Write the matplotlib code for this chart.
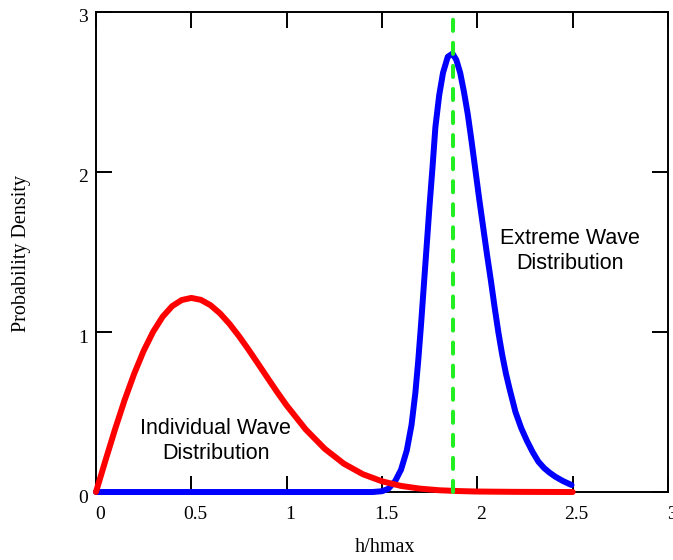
import matplotlib
matplotlib.use('Agg')
import matplotlib.pyplot as plt
import matplotlib.transforms as mtransforms

# Individual wave distribution
red_x = [0.0, 0.05, 0.1, 0.15, 0.2, 0.25, 0.3, 0.35, 0.4, 0.45, 0.5, 0.55, 0.6, 0.65,
         0.7, 0.75, 0.8, 0.85, 0.9, 0.95, 1.0, 1.1, 1.2, 1.3, 1.4, 1.5, 1.6, 1.7,
         1.8, 1.9, 2.0, 2.2, 2.5]
red_y = [0.0, 0.198, 0.392, 0.574, 0.738, 0.882, 1.002, 1.096, 1.162, 1.200, 1.213,
         1.201, 1.168, 1.117, 1.051, 0.974, 0.890, 0.802, 0.713, 0.625, 0.541, 0.391,
         0.270, 0.177, 0.111, 0.067, 0.038, 0.021, 0.011, 0.006, 0.003, 0.001, 0.0]

# Extreme wave distribution
blue_x = [0.0, 1.45, 1.50, 1.533, 1.57, 1.60, 1.63, 1.655, 1.675, 1.69, 1.705, 1.72,
          1.735, 1.75, 1.765, 1.78, 1.80, 1.82, 1.845, 1.87, 1.89, 1.91, 1.93, 1.95,
          1.97, 1.99, 2.01, 2.03, 2.05, 2.07, 2.09, 2.11, 2.13, 2.15, 2.17, 2.20,
          2.23, 2.26, 2.29, 2.32, 2.35, 2.38, 2.41, 2.45, 2.494]
blue_y = [0.0, 0.0, 0.005, 0.02, 0.07, 0.14, 0.26, 0.42, 0.62, 0.82, 1.05, 1.30,
          1.55, 1.80, 2.03, 2.28, 2.48, 2.62, 2.72, 2.74, 2.70, 2.62, 2.50, 2.36,
          2.19, 2.01, 1.83, 1.66, 1.49, 1.33, 1.16, 1.00, 0.86, 0.74, 0.64, 0.50,
          0.40, 0.32, 0.25, 0.19, 0.15, 0.12, 0.095, 0.068, 0.044]

mode_x = 1.87

x_ticks = [0, 0.5, 1, 1.5, 2, 2.5, 3]
x_tick_labels = ['0', '0.5', '1', '1.5', '2', '2.5', '3']
y_ticks = [0, 1, 2, 3]

plt.rcParams['lines.scale_dashes'] = False
serif = 'Liberation Serif'
sans = 'Liberation Sans'

fig = plt.figure(figsize=(6.73, 5.6), dpi=100)
ax = fig.add_axes([0.1426, 0.1214, 0.85, 0.8572])

ax.plot(blue_x, blue_y, color='#0000ff', lw=4.3, clip_on=False,
        solid_capstyle='round', solid_joinstyle='round', zorder=3)
ax.plot(red_x, red_y, color='#ff0000', lw=4.3, clip_on=False,
        solid_capstyle='round', solid_joinstyle='round', zorder=4)
ax.plot([mode_x, mode_x], [0, 3], color='#22ee22', lw=2.9,
        dashes=(8.0, 8.6), dash_capstyle='round', clip_on=False, zorder=5)

ax.text(2.486, 1.506, 'Extreme Wave\nDistribution', family=sans, fontsize=15.5,
        ha='center', va='center', linespacing=1.2)
ax.text(0.629, 0.319, 'Individual Wave\nDistribution', family=sans, fontsize=15.5,
        ha='center', va='center', linespacing=1.2)

ax.set_xlim(0, 3)
ax.set_ylim(0, 3)
ax.set_xticks(x_ticks)
ax.set_xticklabels(x_tick_labels)
ax.set_yticks(y_ticks)

ax.tick_params(direction='in', length=11.5, width=1.4, top=True, right=True,
               labelsize=14, color='black')
ax.tick_params(axis='x', pad=10)
ax.tick_params(axis='y', pad=6)
for lab in ax.get_xticklabels() + ax.get_yticklabels():
    lab.set_family(serif)
for lab in ax.get_xticklabels():
    lab.set_transform(lab.get_transform() +
                      mtransforms.ScaledTranslation(4 / 100, 0, fig.dpi_scale_trans))
for lab in ax.get_yticklabels():
    lab.set_transform(lab.get_transform() +
                      mtransforms.ScaledTranslation(0, -4 / 100, fig.dpi_scale_trans))

for s in ax.spines.values():
    s.set_linewidth(1.4)

fig.text(385 / 673, 1 - 548 / 560, 'h/hmax', family=serif, fontsize=14.5,
         ha='center', va='center')
fig.text(22 / 673, 1 - 253 / 560, 'Probability Density', family=serif, fontsize=14.5,
         ha='center', va='center', rotation=90)

fig.savefig('out.png', dpi=100)
